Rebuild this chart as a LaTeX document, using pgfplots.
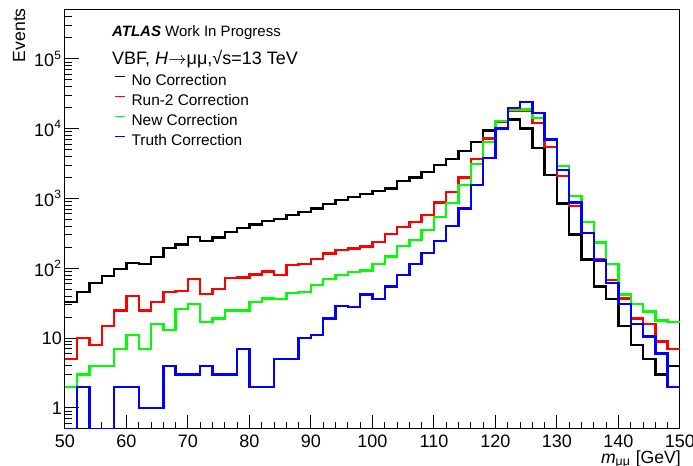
\documentclass[border=0pt]{standalone}
\usepackage{fontspec}
\setmainfont{Liberation Sans}
\usepackage{pgfplots}
\usepackage{pgfplotstable}
\pgfplotsset{compat=1.18}

\pgfplotstableread{
x nc r2 nw tr
50 33 5 2 0.5
52 46 10 3 2
54 62 8 4 0.5
56 78 15 4 0.5
58 97 25 7 2
60 118 40 11 2
62 115 25 7 1
64 145 33 16 1
66 197 46 13 4
68 220 47 26 3
70 280 70 31 3
72 246 43 17 4
74 277 51 19 3
76 330 72 25 3
78 377 74 25 7
80 425 82 33 2
82 480 90 37 2
84 510 80 36 5
86 580 112 44 5
88 640 115 46 10
90 720 136 58 11
92 830 164 70 19
94 950 183 80 29
96 1050 193 88 28
98 1150 204 93 42
100 1270 240 115 36
102 1390 312 147 55
104 1790 394 208 80
106 2000 464 254 115
108 2400 578 353 167
110 3000 877 547 248
112 3650 1245 867 403
114 4750 1995 1550 719
116 6450 3700 3090 1550
118 9460 7200 6450 3800
120 12900 12450 12880 10000
122 13450 18300 18700 19950
124 10000 18300 18700 24000
126 5300 12050 14200 16900
128 2150 5470 6960 6960
130 850 2085 2900 2540
132 306 777 1090 877
134 134 323 464 323
136 55 134 233 129
138 36 68 115 62
140 15 37 42 31
142 8 19 31 16
144 5 16 24 10.6
146 3 9 18 6
148 4 7 17 2
150 4 7 17 2
}\histdata

\definecolor{rootred}{RGB}{255,0,0}
\definecolor{rootgreen}{RGB}{0,255,0}
\definecolor{rootblue}{RGB}{0,0,255}

\begin{document}
\begin{tikzpicture}
\begin{axis}[
  scale only axis,
  width=307.5pt, height=209.5pt,
  at={(0,0)}, anchor=south west,
  clip mode=individual,
  xmin=50, xmax=150,
  ymode=log, ymin=0.5, ymax=5e5,
  xtick={50,60,...,150},
  minor x tick num=4,
  ytick={1,10,100,1000,10000,100000},
  minor ytick={0.5,0.6,0.7,0.8,0.9,2,3,4,5,6,7,8,9,20,30,40,50,60,70,80,90,200,300,400,500,600,700,800,900,2000,3000,4000,5000,6000,7000,8000,9000,20000,30000,40000,50000,60000,70000,80000,90000,200000,300000,400000,500000},
  yticklabels={1,10,10\textsuperscript{2},10\textsuperscript{3},10\textsuperscript{4},10\textsuperscript{5}},
  tick align=inside, tick pos=left,
  major tick length=7pt, minor tick length=3.5pt,
  axis line style={line width=0.5pt},
  tick style={line width=0.5pt, black},
  /pgf/number format/assume math mode=true,
  ticklabel style={font=\fontsize{9}{11}\selectfont},
  xticklabel style={yshift=0.8pt},
  yticklabel style={xshift=2pt},
  legend style={at={(0.0797,0.848)}, anchor=north west, draw=none, fill=none,
    inner sep=0pt, outer sep=0pt, font=\fontsize{7.7}{9}\selectfont, row sep=2pt,
    nodes={inner sep=0pt, text height=6pt, text depth=2pt},
    /tikz/every odd column/.append style={column sep=3pt}},
  legend cell align=left,
  legend image code/.code={\draw[#1, line width=0.8pt] (0pt,2.6pt) -- (5pt,2.6pt);},
]
\addplot[const plot, black, line width=1.2pt] table[x=x, y=nc]{\histdata};
\addlegendentry{No Correction}
\addplot[const plot, rootred, line width=1.2pt] table[x=x, y=r2]{\histdata};
\addlegendentry{Run-2 Correction}
\addplot[const plot, rootgreen, line width=1.2pt] table[x=x, y=nw]{\histdata};
\addlegendentry{New Correction}
\addplot[const plot, rootblue, line width=1.2pt] table[x=x, y=tr]{\histdata};
\addlegendentry{Truth Correction}

\node[anchor=base west, inner sep=0pt, font=\fontsize{7.5}{9}\selectfont] at (axis description cs:0.076,0.936) {\textbf{\textit{ATLAS}} Work In Progress};
\node[anchor=base west, inner sep=0pt, font=\fontsize{9}{11}\selectfont] at (axis description cs:0.076,0.869) {VBF, \textit{H}$\rightarrow$μμ,√s=13 TeV};
\node[rotate=90, anchor=base east, inner sep=0pt, font=\fontsize{8.8}{10}\selectfont] at (axis description cs:-0.065,1.005) {Events};
\node[anchor=base east, inner sep=0pt, font=\fontsize{8.8}{10}\selectfont] at (axis description cs:1.002,-0.0825) {\textit{m}\textsubscript{μμ} [GeV]};
\end{axis}
\pgfresetboundingbox
\path[use as bounding box] (-32.5pt,-18.5pt) rectangle (314pt,214.5pt);
\end{tikzpicture}
\end{document}
